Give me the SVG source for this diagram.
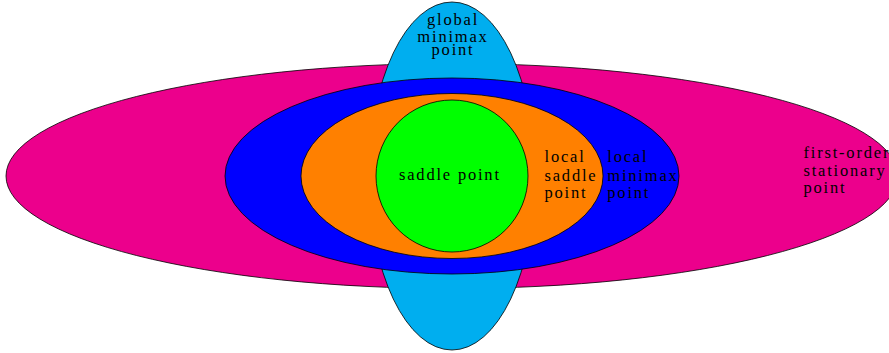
<svg xmlns="http://www.w3.org/2000/svg" width="889" height="353" viewBox="0 0 889 353">
<style>
.s{stroke:#000;stroke-width:0.8}
text{font-family:"Liberation Serif","Times New Roman",serif;font-size:16.5px;letter-spacing:1.8px;fill:#000}
.c{text-anchor:middle}
</style>
<rect width="889" height="353" fill="#fff"/>
<g id="first-order">
<ellipse class="s" cx="452" cy="176" rx="446" ry="112.5" fill="#EC008C"/>
<text x="803.5" y="158.3">first-order</text>
<text x="803.5" y="176">stationary</text>
<text x="803.5" y="193.3">point</text>
</g>
<g id="global-minimax">
<ellipse class="s" cx="452" cy="176" rx="83" ry="174" fill="#00AEEF"/>
<text class="c" x="453" y="25">global</text>
<text class="c" x="453" y="41.5">minimax</text>
<text class="c" x="453" y="54.5">point</text>
</g>
<g id="local-minimax">
<ellipse class="s" cx="452" cy="176" rx="227" ry="98" fill="#0000FF"/>
<text x="607.3" y="162.3">local</text>
<text x="607.3" y="181">minimax</text>
<text x="607.3" y="198.3">point</text>
</g>
<g id="local-saddle">
<ellipse class="s" cx="452" cy="176" rx="151" ry="82.5" fill="#FF8000"/>
<text x="544.5" y="162.3">local</text>
<text x="544.5" y="180.7">saddle</text>
<text x="544.5" y="198.3">point</text>
</g>
<g id="saddle">
<circle class="s" cx="452" cy="176" r="76" fill="#00FF00"/>
<text x="399" y="179.5">saddle point</text>
</g>
<g id="connectors"></g>
</svg>
